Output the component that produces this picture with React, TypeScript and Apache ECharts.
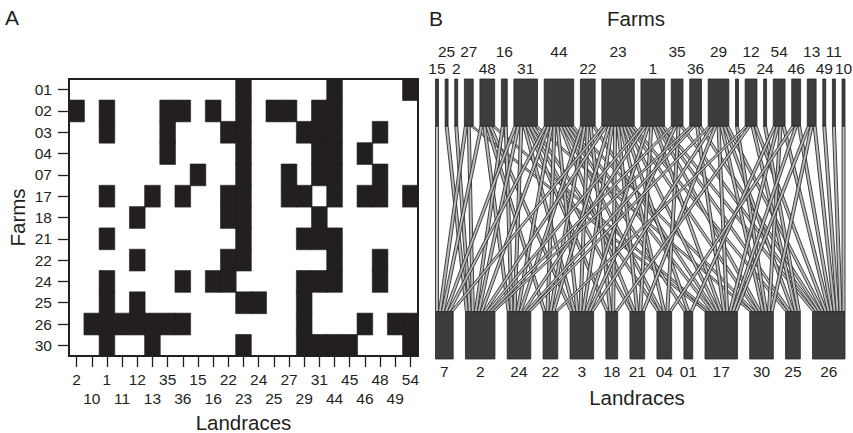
import React, { useEffect, useRef } from 'react';
import * as echarts from 'echarts';

// ---------- data ----------
const farms = ['01', '02', '03', '04', '07', '17', '18', '21', '22', '24', '25', '26', '30'];
const landraces = ['2', '10', '1', '11', '12', '13', '35', '36', '15', '16', '22', '23', '24', '25', '27', '29', '31', '44', '45', '46', '48', '49', '54'];

// landraces present on each farm (same order as farms)
const farm01 = ['23', '44', '54'];
const farm02 = ['2', '1', '35', '36', '16', '23', '25', '27', '31', '44'];
const farm03 = ['1', '35', '22', '23', '29', '31', '44', '48'];
const farm04 = ['35', '23', '31', '44', '46'];
const farm07 = ['15', '23', '27', '31', '44', '48'];
const farm17 = ['1', '13', '36', '22', '23', '27', '29', '44', '46', '48', '54'];
const farm18 = ['12', '22', '23', '31'];
const farm21 = ['1', '23', '29', '31', '44'];
const farm22 = ['12', '22', '23', '44', '48'];
const farm24 = ['1', '36', '16', '22', '29', '31', '44', '48'];
const farm25 = ['1', '12', '23', '24', '29'];
const farm26 = ['10', '1', '11', '12', '13', '35', '36', '29', '46', '49', '54'];
const farm30 = ['1', '13', '23', '29', '31', '44', '45', '54'];
const farmLandraces = [farm01, farm02, farm03, farm04, farm07, farm17, farm18, farm21, farm22, farm24, farm25, farm26, farm30];

// network panel ordering and labels
const topOrder = ['15', '25', '2', '27', '48', '16', '31', '44', '22', '23', '1', '35', '36', '29', '45', '12', '24', '54', '46', '13', '49', '11', '10'];
const bottomOrder = ['07', '02', '24', '22', '03', '18', '21', '04', '01', '17', '30', '25', '26'];
const bottomLabels = ['7', '2', '24', '22', '3', '18', '21', '04', '01', '17', '30', '25', '26'];

// ---------- layout constants ----------
const FONT = '"Liberation Sans", Arial, Helvetica, sans-serif';
const X_MAX = 138.8;
const TOP_BOX_BOTTOM = 47;
const BOTTOM_BOX_TOP = 232.7;
const Y_MAX = 280;

export default function App() {
  const ref = useRef<HTMLDivElement>(null);

  useEffect(() => {
    if (!ref.current) return;
    const chart = echarts.init(ref.current, undefined, { renderer: 'svg' });

    // heatmap cells
    const heatData: number[][] = [];
    farmLandraces.forEach((list, r) => {
      list.forEach((l) => {
        heatData.push([landraces.indexOf(l), r, 1]);
      });
    });

    // network layout
    const topDeg = topOrder.map((l) => farmLandraces.filter((lst) => lst.includes(l)).length);
    const bottomDeg = bottomOrder.map((f) => farmLandraces[farms.indexOf(f)].length);
    const total = topDeg.reduce((a, b) => a + b, 0);
    const topGap = (X_MAX - total) / (topOrder.length - 1);
    const bottomGap = (X_MAX - total) / (bottomOrder.length - 1);
    const topStart: number[] = [];
    let acc = 0;
    topDeg.forEach((d) => {
      topStart.push(acc);
      acc += d + topGap;
    });
    const bottomStart: number[] = [];
    acc = 0;
    bottomDeg.forEach((d) => {
      bottomStart.push(acc);
      acc += d + bottomGap;
    });

    // edges
    const edgeData: number[][] = [];
    const topPartners = topOrder.map((l) =>
      bottomOrder
        .map((f, j) => ({ f, j }))
        .filter(({ f }) => farmLandraces[farms.indexOf(f)].includes(l))
        .map(({ j }) => j)
    );
    const bottomPartners = bottomOrder.map((f) =>
      topOrder
        .map((l, i) => ({ l, i }))
        .filter(({ l }) => farmLandraces[farms.indexOf(f)].includes(l))
        .map(({ i }) => i)
    );
    topOrder.forEach((_, i) => {
      topPartners[i].forEach((j, k) => {
        const kb = bottomPartners[j].indexOf(i);
        edgeData.push([topStart[i] + k, bottomStart[j] + kb]);
      });
    });

    const boxData: number[][] = [];
    const boxLabels: string[] = [];
    topOrder.forEach((l, i) => {
      boxData.push([topStart[i], topDeg[i], 0, i]);
      boxLabels.push(l);
    });
    bottomOrder.forEach((_, j) => {
      boxData.push([bottomStart[j], bottomDeg[j], 1, j]);
      boxLabels.push(bottomLabels[j]);
    });

    const option: any = {
      animation: false,
      backgroundColor: '#ffffff',
      textStyle: { fontFamily: FONT },
      grid: [
        { left: 69, top: 79, width: 349, height: 277, show: false },
        { left: 435.5, top: 79, width: 409.5, height: 280, show: false },
      ],
      xAxis: [
        {
          gridIndex: 0,
          type: 'category',
          data: landraces,
          axisLine: { show: true, lineStyle: { color: '#231f20', width: 2 } },
          axisTick: { show: true, alignWithLabel: true, length: 11, lineStyle: { color: '#231f20', width: 1.3 } },
          axisLabel: {
            interval: 0,
            margin: 14.5,
            fontSize: 15.5,
            lineHeight: 18.5,
            color: '#231f20',
            fontFamily: FONT,
            formatter: (v: string, idx: number) => (idx % 2 === 1 ? '\n' + v : v),
          },
          splitLine: { show: false },
        },
        { gridIndex: 1, type: 'value', min: 0, max: X_MAX, show: false },
      ],
      yAxis: [
        {
          gridIndex: 0,
          type: 'category',
          data: farms,
          inverse: true,
          axisLine: { show: true, lineStyle: { color: '#231f20', width: 2 } },
          axisTick: { show: true, alignWithLabel: true, length: 11, lineStyle: { color: '#231f20', width: 1.3 } },
          axisLabel: { interval: 0, margin: 17, fontSize: 15.5, color: '#231f20', fontFamily: FONT },
          splitLine: { show: false },
        },
        { gridIndex: 1, type: 'value', min: 0, max: Y_MAX, inverse: true, show: false },
      ],
      visualMap: {
        type: 'piecewise',
        show: false,
        seriesIndex: 0,
        dimension: 2,
        pieces: [{ min: 0.5, max: 1.5, color: '#231f20' }],
      },
      series: [
        {
          type: 'heatmap',
          xAxisIndex: 0,
          yAxisIndex: 0,
          data: heatData,
          itemStyle: { borderColor: '#231f20', borderWidth: 0.6 },
          emphasis: { disabled: true },
        },
        {
          type: 'custom',
          xAxisIndex: 1,
          yAxisIndex: 1,
          data: edgeData,
          silent: true,
          clip: false,
          renderItem: (params: any, api: any) => {
            const tx = api.value(0);
            const bx = api.value(1);
            const p1 = api.coord([tx, TOP_BOX_BOTTOM]);
            const p2 = api.coord([tx + 1, TOP_BOX_BOTTOM]);
            const p3 = api.coord([bx + 1, BOTTOM_BOX_TOP]);
            const p4 = api.coord([bx, BOTTOM_BOX_TOP]);
            return {
              type: 'polygon',
              shape: { points: [p1, p2, p3, p4] },
              style: { fill: '#bcbcbc', stroke: '#2e2e2e', lineWidth: 0.9 },
            };
          },
        },
        {
          type: 'custom',
          xAxisIndex: 1,
          yAxisIndex: 1,
          data: boxData,
          silent: true,
          clip: false,
          z: 5,
          renderItem: (params: any, api: any) => {
            const x0 = api.value(0);
            const w = api.value(1);
            const level = api.value(2);
            const idx = api.value(3);
            const y0 = level === 0 ? 0 : BOTTOM_BOX_TOP;
            const y1 = level === 0 ? TOP_BOX_BOTTOM : Y_MAX;
            const a = api.coord([x0, y0]);
            const b = api.coord([x0 + w, y1]);
            const label = boxLabels[params.dataIndex];
            let ly: number;
            if (level === 0) {
              ly = idx % 2 === 0 ? -11 : -28;
            } else {
              ly = 292.5;
            }
            const lp = api.coord([x0 + w / 2, ly]);
            return {
              type: 'group',
              children: [
                {
                  type: 'rect',
                  shape: { x: a[0], y: a[1], width: b[0] - a[0], height: b[1] - a[1] },
                  style: { fill: '#3d3d3d', stroke: '#262626', lineWidth: 0.8 },
                },
                {
                  type: 'text',
                  x: lp[0],
                  y: lp[1],
                  style: {
                    text: label,
                    fill: '#231f20',
                    font: `15.5px ${FONT}`,
                    align: 'center',
                    verticalAlign: 'middle',
                  },
                },
              ],
            };
          },
        },
      ],
      graphic: [
        { type: 'rect', z: 100, silent: true, shape: { x: 69, y: 79, width: 349, height: 277 }, style: { fill: 'none', stroke: '#231f20', lineWidth: 2 } },
        { type: 'text', x: 12, y: 17, style: { text: 'A', fill: '#231f20', font: `21px ${FONT}`, align: 'center', verticalAlign: 'middle' } },
        { type: 'text', x: 436, y: 18, style: { text: 'B', fill: '#231f20', font: `21px ${FONT}`, align: 'center', verticalAlign: 'middle' } },
        { type: 'text', x: 636, y: 18, style: { text: 'Farms', fill: '#231f20', font: `20.5px ${FONT}`, align: 'center', verticalAlign: 'middle' } },
        { type: 'text', x: 637, y: 397, style: { text: 'Landraces', fill: '#231f20', font: `20.5px ${FONT}`, align: 'center', verticalAlign: 'middle' } },
        { type: 'text', x: 243.5, y: 422, style: { text: 'Landraces', fill: '#231f20', font: `20.5px ${FONT}`, align: 'center', verticalAlign: 'middle' } },
        { type: 'text', x: 17, y: 217.5, rotation: Math.PI / 2, style: { text: 'Farms', fill: '#231f20', font: `20.5px ${FONT}`, align: 'center', verticalAlign: 'middle' } },
      ],
    };

    chart.setOption(option);
    return () => {
      chart.dispose();
    };
  }, []);

  return (
    <div
      ref={ref}
      style={{ position: 'fixed', left: 0, top: 0, width: 853, height: 433, background: '#fff' }}
    />
  );
}
